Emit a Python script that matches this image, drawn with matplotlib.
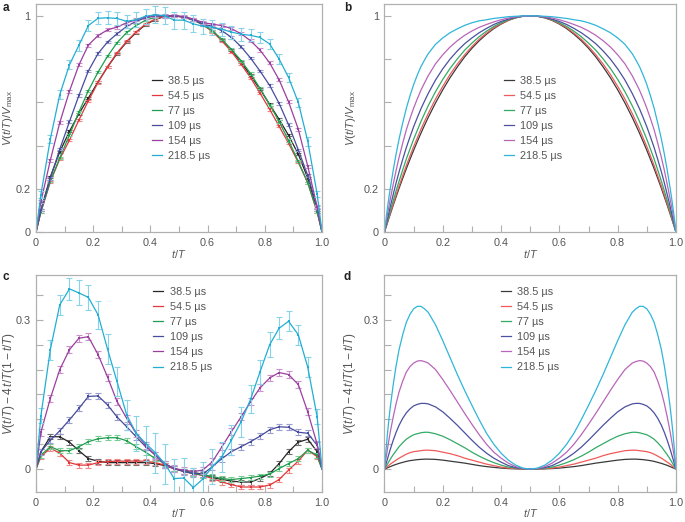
import matplotlib
matplotlib.use("Agg")
import matplotlib.pyplot as plt
import numpy as np

plt.rcParams["font.family"] = ["Liberation Sans", "DejaVu Sans"]
plt.rcParams["mathtext.fontset"] = "custom"
plt.rcParams["mathtext.rm"] = "Liberation Sans"
plt.rcParams["mathtext.it"] = "Liberation Sans:italic"

LABELS = ["38.5 µs", "54.5 µs", "77 µs", "109 µs", "154 µs", "218.5 µs"]
COLORS = ["#262626", "#e3373a", "#1f9e50", "#474c9e", "#9b3f9e", "#22aed3"]
ERR_COLORS = ["#707070", "#f08a8a", "#7ccc98", "#9a9dd0", "#cc92cf", "#86d3ea"]
THEORY_COLORS = ["#3a3a3a", "#ef5a5a", "#33aa66", "#4b509f", "#b866b8", "#2fb6d8"]

# measured points (30 per pulse length)
T_EXP = [0.017, 0.05, 0.083, 0.117, 0.15, 0.183, 0.217, 0.25, 0.283, 0.317,
         0.35, 0.383, 0.417, 0.45, 0.483, 0.517, 0.55, 0.583, 0.617, 0.65,
         0.683, 0.717, 0.75, 0.783, 0.817, 0.85, 0.883, 0.917, 0.95, 0.983]

# panel a: V(t/T)/Vmax
A_385 = [0.101, 0.255, 0.371, 0.466, 0.547, 0.62, 0.695, 0.763, 0.825, 0.879, 0.923, 0.959, 0.983, 0.997, 1.0,
         0.995, 0.983, 0.962, 0.929, 0.889, 0.842, 0.786, 0.724, 0.66, 0.59, 0.521, 0.447, 0.36, 0.25, 0.101]
A_545 = [0.091, 0.232, 0.338, 0.425, 0.518, 0.607, 0.692, 0.765, 0.828, 0.882, 0.926, 0.962, 0.985, 0.998, 1.0,
         0.994, 0.981, 0.959, 0.927, 0.884, 0.835, 0.776, 0.714, 0.643, 0.567, 0.489, 0.41, 0.322, 0.228, 0.091]
A_77 = [0.094, 0.235, 0.343, 0.449, 0.555, 0.654, 0.74, 0.813, 0.875, 0.923, 0.955, 0.98, 0.993, 1.001, 1.0,
        0.995, 0.981, 0.96, 0.931, 0.891, 0.845, 0.793, 0.733, 0.665, 0.589, 0.511, 0.423, 0.327, 0.228, 0.094]
A_109 = [0.101, 0.248, 0.383, 0.511, 0.632, 0.745, 0.826, 0.879, 0.917, 0.951, 0.975, 0.991, 1.0, 1.001, 1.0,
         0.994, 0.981, 0.962, 0.951, 0.931, 0.901, 0.857, 0.805, 0.745, 0.678, 0.595, 0.496, 0.38, 0.262, 0.114]
A_154 = [0.14, 0.332, 0.506, 0.652, 0.773, 0.865, 0.909, 0.935, 0.948, 0.968, 0.982, 0.994, 1.0, 0.999, 1.0,
         0.997, 0.985, 0.97, 0.961, 0.955, 0.941, 0.917, 0.885, 0.842, 0.782, 0.704, 0.602, 0.476, 0.305, 0.116]
A_2185 = [0.173, 0.43, 0.636, 0.774, 0.864, 0.955, 0.989, 0.991, 0.988, 0.975, 0.982, 0.998, 1.005, 1.001, 0.98,
          0.98, 0.963, 0.952, 0.947, 0.938, 0.925, 0.915, 0.91, 0.9, 0.87, 0.8, 0.715, 0.6, 0.42, 0.175]

# panel c: V(t/T) - 4 t/T (1 - t/T)
C_385 = [0.035, 0.065, 0.065, 0.054, 0.037, 0.021, 0.016, 0.013, 0.013, 0.013, 0.013, 0.013, 0.011, 0.007, 0.001,
         -0.004, -0.007, -0.01, -0.017, -0.021, -0.024, -0.026, -0.026, -0.019, -0.009, 0.011, 0.035, 0.054, 0.06, 0.035]
C_545 = [0.025, 0.042, 0.032, 0.013, 0.008, 0.008, 0.013, 0.015, 0.016, 0.016, 0.016, 0.016, 0.013, 0.008, 0.001,
         -0.005, -0.009, -0.013, -0.019, -0.026, -0.031, -0.036, -0.036, -0.036, -0.032, -0.021, -0.002, 0.016, 0.038, 0.025]
C_77 = [0.028, 0.045, 0.037, 0.037, 0.045, 0.055, 0.061, 0.063, 0.063, 0.057, 0.045, 0.034, 0.021, 0.011, 0.001,
        -0.004, -0.009, -0.012, -0.015, -0.019, -0.021, -0.019, -0.017, -0.014, -0.01, 0.001, 0.011, 0.021, 0.038, 0.028]
C_109 = [0.035, 0.058, 0.077, 0.099, 0.122, 0.146, 0.147, 0.129, 0.105, 0.085, 0.065, 0.045, 0.028, 0.011, 0.001,
         -0.005, -0.009, -0.01, 0.005, 0.021, 0.035, 0.045, 0.055, 0.066, 0.079, 0.085, 0.084, 0.074, 0.072, 0.048]
C_154 = [0.074, 0.142, 0.2, 0.24, 0.263, 0.266, 0.23, 0.185, 0.136, 0.102, 0.072, 0.048, 0.028, 0.009, 0.001,
         -0.002, -0.005, -0.002, 0.015, 0.045, 0.075, 0.105, 0.135, 0.163, 0.183, 0.194, 0.19, 0.17, 0.115, 0.05]
C_2185 = [0.107, 0.24, 0.33, 0.362, 0.354, 0.345, 0.31, 0.241, 0.176, 0.109, 0.072, 0.052, 0.033, 0.011, -0.019,
          -0.018, -0.037, -0.02, 0.005, 0.025, 0.058, 0.095, 0.14, 0.195, 0.25, 0.283, 0.297, 0.27, 0.205, 0.105]

# error bars
ERR_SMALL = [0.005, 0.005, 0.005, 0.006, 0.007]
ERR_2185 = [0.015, 0.02, 0.02, 0.022, 0.025, 0.025, 0.028, 0.03, 0.03, 0.03, 0.035, 0.035, 0.04, 0.04, 0.04,
            0.04, 0.04, 0.035, 0.035, 0.03, 0.03, 0.03, 0.028, 0.025, 0.025, 0.022, 0.02, 0.02, 0.02, 0.015]

# model curves, first half (symmetric about t/T = 0.5)
T_MODEL = [0.0, 0.005, 0.01, 0.015, 0.02, 0.03, 0.04, 0.05, 0.0625, 0.075, 0.0875, 0.1, 0.1125, 0.125, 0.1375,
           0.15, 0.175, 0.2, 0.225, 0.25, 0.275, 0.3, 0.325, 0.35, 0.375, 0.4, 0.425, 0.45, 0.475, 0.5]
B_385 = [0.0, 0.021, 0.042, 0.063, 0.083, 0.124, 0.163, 0.202, 0.248, 0.293, 0.336, 0.378, 0.418, 0.457, 0.494,
         0.53, 0.597, 0.658, 0.714, 0.764, 0.81, 0.85, 0.885, 0.915, 0.941, 0.962, 0.979, 0.991, 0.998, 1.0]
B_545 = [0.0, 0.022, 0.045, 0.067, 0.088, 0.13, 0.172, 0.212, 0.26, 0.308, 0.352, 0.395, 0.435, 0.475, 0.512,
         0.548, 0.615, 0.674, 0.729, 0.777, 0.82, 0.858, 0.892, 0.92, 0.945, 0.964, 0.98, 0.991, 0.998, 1.0]
B_77 = [0.0, 0.025, 0.05, 0.074, 0.098, 0.145, 0.191, 0.235, 0.287, 0.338, 0.384, 0.429, 0.47, 0.511, 0.548,
        0.584, 0.649, 0.706, 0.757, 0.801, 0.841, 0.874, 0.904, 0.929, 0.951, 0.968, 0.982, 0.992, 0.998, 1.0]
B_109 = [0.0, 0.03, 0.06, 0.089, 0.118, 0.174, 0.228, 0.278, 0.336, 0.391, 0.44, 0.487, 0.529, 0.57, 0.606,
         0.641, 0.703, 0.755, 0.8, 0.838, 0.871, 0.898, 0.922, 0.942, 0.96, 0.974, 0.985, 0.993, 0.999, 1.0]
B_154 = [0.0, 0.041, 0.08, 0.117, 0.153, 0.221, 0.286, 0.345, 0.411, 0.473, 0.525, 0.573, 0.616, 0.656, 0.69,
         0.723, 0.778, 0.82, 0.856, 0.885, 0.91, 0.93, 0.947, 0.96, 0.972, 0.982, 0.99, 0.995, 0.999, 1.0]
B_2185 = [0.0, 0.057, 0.11, 0.158, 0.203, 0.286, 0.362, 0.43, 0.504, 0.573, 0.63, 0.682, 0.726, 0.765, 0.796,
          0.825, 0.868, 0.898, 0.922, 0.94, 0.956, 0.968, 0.977, 0.982, 0.988, 0.992, 0.996, 0.998, 1.0, 1.0]

D_385 = [0.0, 0.0013, 0.0025, 0.0038, 0.005, 0.0075, 0.0095, 0.0115, 0.0135, 0.0155, 0.017, 0.018, 0.019, 0.0195,
         0.02, 0.02, 0.0195, 0.018, 0.016, 0.014, 0.012, 0.0095, 0.007, 0.005, 0.0035, 0.002, 0.001, 0.0005, 0.0001, 0.0]
D_545 = [0.0, 0.0025, 0.005, 0.0075, 0.01, 0.014, 0.018, 0.022, 0.026, 0.03, 0.033, 0.035, 0.036, 0.037,
         0.038, 0.038, 0.037, 0.034, 0.031, 0.027, 0.022, 0.018, 0.014, 0.01, 0.007, 0.004, 0.002, 0.001, 0.0003, 0.0]
D_77 = [0.0, 0.005, 0.01, 0.015, 0.02, 0.029, 0.037, 0.045, 0.053, 0.06, 0.065, 0.069, 0.071, 0.073,
        0.074, 0.074, 0.071, 0.066, 0.059, 0.051, 0.043, 0.034, 0.026, 0.019, 0.013, 0.008, 0.004, 0.002, 0.0005, 0.0]
D_109 = [0.0, 0.01, 0.02, 0.03, 0.04, 0.058, 0.074, 0.088, 0.102, 0.113, 0.121, 0.127, 0.13, 0.132,
         0.132, 0.131, 0.125, 0.115, 0.102, 0.088, 0.073, 0.058, 0.044, 0.032, 0.022, 0.014, 0.007, 0.003, 0.001, 0.0]
D_154 = [0.0, 0.021, 0.04, 0.058, 0.075, 0.105, 0.132, 0.155, 0.177, 0.195, 0.206, 0.213, 0.217, 0.218,
         0.216, 0.213, 0.2, 0.18, 0.158, 0.135, 0.112, 0.09, 0.069, 0.05, 0.034, 0.022, 0.012, 0.005, 0.001, 0.0]
D_2185 = [0.0, 0.037, 0.07, 0.099, 0.125, 0.17, 0.208, 0.24, 0.27, 0.295, 0.311, 0.322, 0.327, 0.327,
          0.322, 0.315, 0.29, 0.258, 0.224, 0.19, 0.158, 0.128, 0.099, 0.072, 0.05, 0.032, 0.018, 0.008, 0.002, 0.0]

A_SERIES = [A_385, A_545, A_77, A_109, A_154, A_2185]
C_SERIES = [C_385, C_545, C_77, C_109, C_154, C_2185]
B_SERIES = [B_385, B_545, B_77, B_109, B_154, B_2185]
D_SERIES = [D_385, D_545, D_77, D_109, D_154, D_2185]
ERRORS = ERR_SMALL + [ERR_2185]

TEXT = "#555555"
SPINE = "#b0b0b0"
FS = 7.8


def full_curve(half):
    # the model curves are mirror symmetric about t/T = 0.5
    half = np.asarray(half)
    return np.r_[half, half[-2::-1]]


def style_axes(ax, ylim, yticks, ylabels, ylabel, ylab_x, ylab_fs):
    ax.set_xlim(0, 1)
    ax.set_ylim(*ylim)
    ax.set_xticks([0, 0.2, 0.4, 0.6, 0.8, 1.0])
    ax.set_xticklabels(["0", "0.2", "0.4", "0.6", "0.8", "1.0"])
    ax.set_xticks([0.1, 0.3, 0.5, 0.7, 0.9], minor=True)
    ax.set_yticks(yticks)
    ax.set_yticklabels(ylabels)
    ax.tick_params(which="both", direction="in", colors=SPINE, labelcolor=TEXT, labelsize=FS, width=0.8)
    ax.tick_params(which="major", length=5, pad=4)
    ax.tick_params(which="minor", length=4)
    for sp in ax.spines.values():
        sp.set_color(SPINE)
        sp.set_linewidth(0.9)
    ax.set_xlabel("$t/T$", color=TEXT, fontsize=FS)
    ax.xaxis.set_label_coords(0.5, -0.07)
    ax.set_ylabel(ylabel, color=TEXT, fontsize=ylab_fs)
    ax.yaxis.set_label_coords(ylab_x, 0.5)


def add_legend(ax, anchor):
    leg = ax.legend(loc="upper left", bbox_to_anchor=anchor, frameon=False, fontsize=FS,
                    handlelength=0.9, handletextpad=0.6, labelspacing=0.47, borderaxespad=0, borderpad=0)
    for txt in leg.get_texts():
        txt.set_color(TEXT)


fig = plt.figure(figsize=(6.85, 5.22), dpi=100)
ax_a = fig.add_axes([0.0526, 0.5556, 0.4175, 0.4368])
ax_b = fig.add_axes([0.5613, 0.5556, 0.4255, 0.4368])
ax_c = fig.add_axes([0.0526, 0.0575, 0.4175, 0.4157])
ax_d = fig.add_axes([0.5613, 0.0575, 0.4255, 0.4157])

t_line = np.r_[0.0, T_EXP, 1.0]
for ax, series in ((ax_a, A_SERIES), (ax_c, C_SERIES)):
    for vals, err, col, ecol, lab in zip(series, ERRORS, COLORS, ERR_COLORS, LABELS):
        ax.errorbar(T_EXP, vals, yerr=err, fmt="none", ecolor=ecol, elinewidth=0.8, capsize=2.2, capthick=0.8)
        ax.plot(t_line, np.r_[0.0, vals, 0.0], color=col, lw=0.9, label=lab)
        ax.plot(T_EXP, vals, "s", color=col, ms=2.0, mew=0)

t_model = np.r_[T_MODEL, 1.0 - np.asarray(T_MODEL)[-2::-1]]
for ax, series in ((ax_b, B_SERIES), (ax_d, D_SERIES)):
    for vals, col, lab in zip(series, THEORY_COLORS, LABELS):
        ax.plot(t_model, full_curve(vals), color=col, lw=0.9, label=lab)

vlab_ab = "$V(t/T)/V_{\\mathrm{max}}$"
vlab_cd = "$V(t/T) - 4\\,t/T(1 - t/T)$"
ab_ticks = [0, 0.2, 0.4, 0.6, 0.8, 1.0]
ab_labels = ["0", "0.2", "", "", "", "1"]
style_axes(ax_a, (0, 1.055), ab_ticks, ab_labels, vlab_ab, -0.075, 8.2)
style_axes(ax_b, (0, 1.055), ab_ticks, ab_labels, vlab_ab, -0.09, 8.2)
cd_ticks = [0, 0.05, 0.1, 0.15, 0.2, 0.25, 0.3, 0.35]
cd_labels = ["0", "", "", "", "", "", "0.3", ""]
style_axes(ax_c, (-0.046, 0.39), cd_ticks, cd_labels, vlab_cd, -0.066, 8.6)
style_axes(ax_d, (-0.046, 0.39), cd_ticks, cd_labels, vlab_cd, -0.09, 8.6)

add_legend(ax_a, (0.405, 0.685))
add_legend(ax_b, (0.41, 0.685))
add_legend(ax_c, (0.41, 0.945))
add_legend(ax_d, (0.40, 0.945))

for letter, (x, y) in zip("abcd", [(0.004, 0.985), (0.502, 0.985), (0.004, 0.47), (0.502, 0.47)]):
    fig.text(x, y, letter, fontsize=8.5, fontweight="bold", color="#222222", ha="left", va="center")

fig.savefig("out.png", dpi=100)
